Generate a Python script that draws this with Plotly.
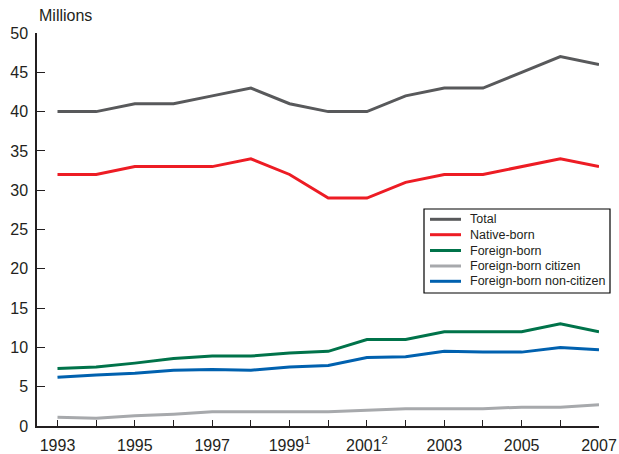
import plotly.graph_objects as go

years = list(range(1993, 2008))
total = [40, 40, 41, 41, 42, 43, 41, 40, 40, 42, 43, 43, 45, 47, 46]
native_born = [32, 32, 33, 33, 33, 34, 32, 29, 29, 31, 32, 32, 33, 34, 33]
foreign_born = [7.3, 7.5, 8.0, 8.6, 8.9, 8.9, 9.3, 9.5, 11, 11, 12, 12, 12, 13, 12]
foreign_citizen = [1.1, 1.0, 1.3, 1.5, 1.8, 1.8, 1.8, 1.8, 2.0, 2.2, 2.2, 2.2, 2.4, 2.4, 2.7]
foreign_noncitizen = [6.2, 6.5, 6.7, 7.1, 7.2, 7.1, 7.5, 7.7, 8.7, 8.8, 9.5, 9.4, 9.4, 10.0, 9.7]

label_years = [1993, 1995, 1997, 1999, 2001, 2003, 2005, 2007]
label_text = ["1993", "1995", "1997", "1999<sup>1</sup>", "2001<sup>2</sup>",
              "2003", "2005", "2007"]

series = [
    ("Total", total, "#58595b"),
    ("Native-born", native_born, "#ed1c24"),
    ("Foreign-born", foreign_born, "#00734a"),
    ("Foreign-born citizen", foreign_citizen, "#a7a9ac"),
    ("Foreign-born non-citizen", foreign_noncitizen, "#0061af"),
]

W, H = 619, 454
L, R, T, B = 37, 20, 33, 28
pw, ph = W - L - R, H - T - B

def px_x(x):
    return (x - L) / pw

def px_y(y):
    return (H - B - y) / ph

fig = go.Figure()
for name, vals, color in series:
    fig.add_trace(go.Scatter(x=years, y=vals, name=name, mode="lines",
                             line=dict(color=color, width=3), showlegend=False))

# hand-drawn legend box (plotly's own legend rows are too tall)
shapes = [dict(type="rect", xref="paper", yref="paper",
               x0=px_x(424), x1=px_x(610), y0=px_y(293), y1=px_y(209),
               line=dict(color="black", width=1.2), fillcolor="white", layer="above")]
annotations = [dict(text="Millions", x=0, y=1, xref="paper", yref="paper",
                    xanchor="left", yanchor="bottom", yshift=7, showarrow=False,
                    font=dict(size=16))]
row_y = [219.3, 234.7, 250.5, 266, 281.3]
for (name, vals, color), ry in zip(series, row_y):
    shapes.append(dict(type="line", xref="paper", yref="paper",
                       x0=px_x(430), x1=px_x(461), y0=px_y(ry), y1=px_y(ry),
                       line=dict(color=color, width=3), layer="above"))
    annotations.append(dict(text=name, x=px_x(468), y=px_y(ry), xref="paper", yref="paper",
                            xanchor="left", yanchor="middle", showarrow=False,
                            font=dict(size=12.5)))

fig.update_layout(
    width=W, height=H,
    margin=dict(l=L, r=R, t=T, b=B),
    paper_bgcolor="white", plot_bgcolor="white",
    font=dict(family="Liberation Sans, Arial, sans-serif", color="#231f20", size=16),
    shapes=shapes, annotations=annotations,
)
fig.update_xaxes(range=[1992.47, 2007], tickvals=label_years, ticktext=label_text,
                 showgrid=False, zeroline=False, showline=True, linecolor="#231f20",
                 linewidth=1.5, ticks="inside", ticklen=6, tickcolor="#231f20",
                 minor=dict(tickvals=years, ticks="inside", ticklen=6,
                            tickcolor="#231f20", showgrid=False),
                 ticklabelstandoff=4, automargin=False)
fig.update_yaxes(range=[0, 50], dtick=5, showgrid=False, zeroline=False,
                 showline=True, linecolor="#231f20", linewidth=1.5,
                 ticks="inside", ticklen=8, tickcolor="#231f20",
                 ticklabelstandoff=4, automargin=False)

# page body has a default 8px margin; drop it so the figure sits at the window corner
fig.write_html("out.html", config={"displayModeBar": False},
               post_script="document.body.style.margin='0';")
